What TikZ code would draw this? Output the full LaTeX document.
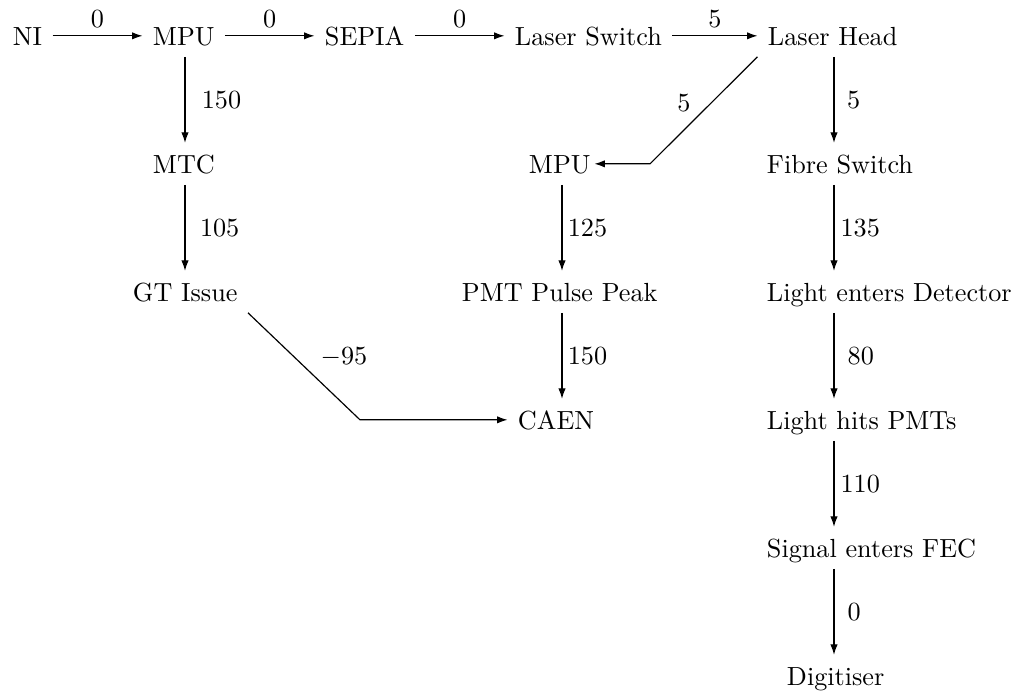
\documentclass[tikz,border=0pt]{standalone}
\usetikzlibrary{arrows.meta}
\begin{document}
\begin{tikzpicture}[x=0.3817pt,y=-0.3817pt,
  box/.style={anchor=base west, inner xsep=4pt, inner ysep=4.5pt, text height=7pt, text depth=0pt, outer sep=0pt},
  con/.style={-{Latex[length=4pt,width=2.8pt]}, line width=0.45pt},
  lab/.style={inner sep=2pt}]
\useasboundingbox (0,0) rectangle (1019,693);
% row 1
\node[box] (NI)   at (2.5,45)   {NI};
\node[box] (MPUa) at (142.5,45) {MPU};
\node[box] (SEP)  at (314.5,45) {SEPIA};
\node[box] (LS)   at (504.5,45) {Laser Switch};
\node[box] (LH)   at (757.5,45) {Laser Head};
% left column
\node[box] (MTC)  at (142.5,173) {MTC};
\node[box] (GT)   at (122.5,301) {GT Issue};
% middle column
\node[box] (MPUb) at (518.5,173) {MPU};
\node[box] (PMT)  at (451.5,301) {PMT Pulse Peak};
\node[box] (CAEN) at (507.5,429) {CAEN};
% right column
\node[box] (FS)   at (756.5,173) {Fibre Switch};
\node[box] (LED)  at (756.5,301) {Light enters Detector};
\node[box] (LHP)  at (756.5,429) {Light hits PMTs};
\node[box] (SEF)  at (756.5,557) {Signal enters FEC};
\node[box] (DIG)  at (776.5,685) {Digitiser};
% column axes and corners
\coordinate (lc) at (185,0);
\coordinate (mc) at (562,0);
\coordinate (rc) at (834,0);
\coordinate (k1) at (650,0);
\coordinate (k2) at (360,0);
% top row
\draw[con] (NI.east) -- node[lab,midway,above=0.9pt]{0} (MPUa.west);
\draw[con] (MPUa.east) -- node[lab,midway,above=0.9pt]{0} (SEP.west);
\draw[con] (SEP.east) -- node[lab,midway,above=0.9pt]{0} (LS.west);
\draw[con] (LS.east) -- node[lab,midway,above=0.9pt]{5} (LH.west);
% left column
\draw[con] (MPUa.south -| lc) -- node[lab,midway,right=4.2pt]{150} (MTC.north -| lc);
\draw[con] (MTC.south -| lc) -- node[lab,midway,right=3.5pt]{105} (GT.north -| lc);
\draw[con] (GT.south east) -- node[lab,pos=0.41,right=8pt]{$-95$} (k2 |- CAEN.west) -- (CAEN.west);
% middle column
\draw[con] (LH.south west) -- node[lab,pos=0.43,left=5.7pt]{5} (k1 |- MPUb.east) -- ([xshift=-2.5pt]MPUb.east);
\draw[con] (MPUb.south -| mc) -- node[lab,midway,right=0pt]{125} (PMT.north -| mc);
\draw[con] (PMT.south -| mc) -- node[lab,midway,right=0pt]{150} (CAEN.north -| mc);
% right column
\draw[con] (LH.south -| rc) -- node[lab,midway,right=2.8pt]{5} (FS.north -| rc);
\draw[con] (FS.south -| rc) -- node[lab,midway,right=0.3pt]{135} (LED.north -| rc);
\draw[con] (LED.south -| rc) -- node[lab,midway,right=3pt]{80} (LHP.north -| rc);
\draw[con] (LHP.south -| rc) -- node[lab,midway,right=0.3pt]{110} (SEF.north -| rc);
\draw[con] (SEF.south -| rc) -- node[lab,midway,right=3pt]{0} (DIG.north -| rc);
\end{tikzpicture}
\end{document}
